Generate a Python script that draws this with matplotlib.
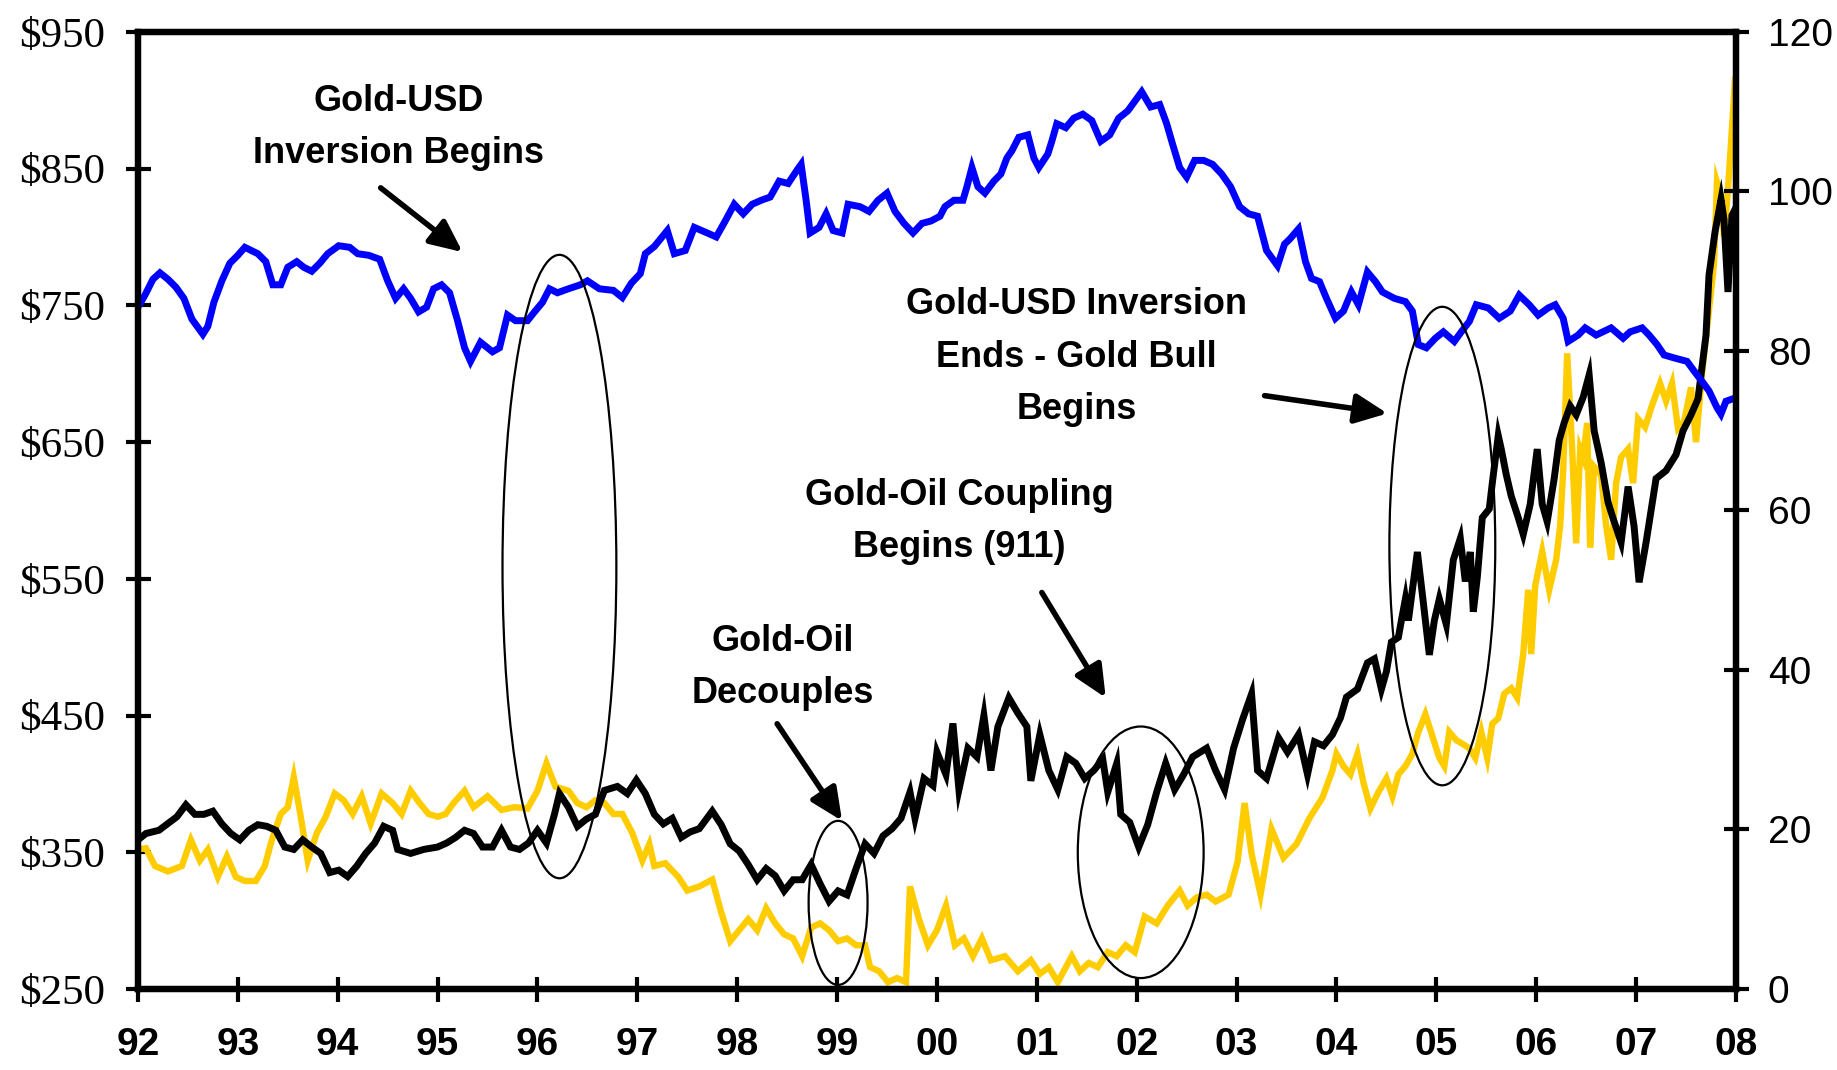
import matplotlib
matplotlib.use("Agg")
from matplotlib import pyplot as plt
from matplotlib.patches import Ellipse

# gold price in $/oz, left axis (x = year, 92 .. 108 means 1992 .. 2008)
gold_years = [92.00, 92.08, 92.17, 92.30, 92.44, 92.53, 92.62, 92.70, 92.80, 92.89, 92.98,
              93.07, 93.18, 93.27, 93.34, 93.43, 93.50, 93.56, 93.63, 93.70, 93.79, 93.88, 93.97,
              94.06, 94.15, 94.24, 94.33, 94.44, 94.55, 94.64, 94.73, 94.82, 94.91,
              95.00, 95.08, 95.16, 95.27, 95.36, 95.50, 95.64, 95.77, 95.90,
              96.00, 96.09, 96.18, 96.31, 96.40, 96.49, 96.58, 96.67, 96.76, 96.85, 96.95,
              97.05, 97.12, 97.17, 97.28, 97.41, 97.50, 97.62, 97.75, 97.84, 97.93,
              98.02, 98.11, 98.20, 98.29, 98.38, 98.47, 98.56, 98.65, 98.74, 98.83, 98.92,
              99.01, 99.10, 99.19, 99.28, 99.33, 99.42, 99.51, 99.60, 99.69, 99.73, 99.82, 99.91,
              100.00, 100.09, 100.18, 100.27, 100.36, 100.45, 100.54, 100.68, 100.81, 100.94,
              101.03, 101.12, 101.21, 101.35, 101.43, 101.52, 101.61, 101.71, 101.80, 101.89, 101.98,
              102.08, 102.20, 102.31, 102.43, 102.51, 102.60, 102.70, 102.79, 102.92,
              103.01, 103.08, 103.15, 103.24, 103.35, 103.47, 103.60, 103.73, 103.86, 103.96,
              104.00, 104.07, 104.14, 104.21, 104.27, 104.34, 104.42, 104.50, 104.56, 104.62,
              104.69, 104.76, 104.82, 104.89, 104.96,
              105.03, 105.08, 105.13, 105.20, 105.27, 105.33, 105.39, 105.45, 105.51, 105.56,
              105.62, 105.68, 105.75, 105.81, 105.87, 105.92, 105.95, 105.99,
              106.06, 106.13, 106.20, 106.24, 106.27, 106.31, 106.36, 106.40, 106.44, 106.47,
              106.51, 106.54, 106.58, 106.65, 106.70, 106.75, 106.80, 106.85, 106.92, 106.97,
              107.02, 107.09, 107.16, 107.24, 107.30, 107.36, 107.42, 107.48, 107.55, 107.60,
              107.66, 107.72, 107.78, 107.81, 107.85, 107.88, 107.92, 107.97, 107.99]
gold_price = [352, 353, 340, 336, 340, 359, 344, 352, 332, 347, 332,
              329, 329, 340, 359, 378, 383, 405, 376, 344, 364, 376, 393,
              388, 378, 391, 371, 393, 386, 378, 395, 386, 378,
              376, 378, 386, 395, 383, 391, 381, 383, 382,
              395, 415, 398, 395, 386, 383, 388, 386, 378, 378, 364,
              344, 356, 340, 342, 332, 322, 325, 330, 306, 285,
              293, 301, 293, 309, 298, 290, 287, 274, 295, 298, 293,
              285, 287, 282, 282, 266, 263, 255, 258, 255, 325, 301, 282,
              293, 311, 282, 287, 274, 287, 271, 274, 263, 271,
              261, 266, 255, 274, 263, 269, 266, 277, 274, 282, 277,
              303, 298, 311, 322, 311, 317, 319, 314, 319,
              343, 386, 349, 319, 367, 346, 356, 375, 390, 410,
              422, 413, 407, 422, 401, 382, 394, 404, 391, 407,
              413, 422, 438, 451, 435,
              419, 413, 438, 432, 429, 426, 419, 438, 419, 444,
              448, 466, 470, 463, 495, 542, 495, 545,
              570, 542, 564, 589, 629, 715, 645, 576, 645, 639,
              664, 573, 632, 626, 589, 564, 620, 639, 645, 620,
              667, 661, 677, 693, 680, 693, 660, 665, 690, 650,
              700, 740, 780, 840, 830, 800, 835, 891, 915]

# crude oil in $/bbl, right axis
oil_years = [92.00, 92.08, 92.21, 92.39, 92.48, 92.57, 92.66, 92.75, 92.84, 92.93,
             93.02, 93.11, 93.20, 93.29, 93.38, 93.47, 93.56, 93.65, 93.74, 93.83, 93.92,
             94.01, 94.10, 94.19, 94.28, 94.37, 94.46, 94.55, 94.60, 94.73, 94.86,
             95.00, 95.09, 95.18, 95.27, 95.36, 95.45, 95.55, 95.64, 95.73, 95.82, 95.91,
             96.00, 96.09, 96.17, 96.22, 96.31, 96.40, 96.49, 96.58, 96.67, 96.80, 96.90, 96.99,
             97.08, 97.17, 97.26, 97.35, 97.44, 97.53, 97.62, 97.75, 97.84, 97.93,
             98.02, 98.11, 98.20, 98.29, 98.38, 98.47, 98.56, 98.65, 98.74, 98.83, 98.92,
             99.01, 99.10, 99.19, 99.28, 99.37, 99.46, 99.55, 99.64, 99.73, 99.78, 99.87, 99.96,
             100.00, 100.09, 100.16, 100.22, 100.31, 100.40, 100.47, 100.54, 100.61, 100.72,
             100.81, 100.90, 100.94,
             101.03, 101.12, 101.21, 101.30, 101.39, 101.48, 101.57, 101.66, 101.71, 101.80,
             101.84, 101.93,
             102.02, 102.11, 102.20, 102.29, 102.38, 102.47, 102.56, 102.70, 102.79, 102.88, 102.97,
             103.06, 103.15, 103.21, 103.30, 103.42, 103.51, 103.62, 103.71, 103.78, 103.87, 103.96,
             104.04, 104.10, 104.21, 104.31, 104.38, 104.45, 104.50, 104.55, 104.62, 104.65,
             104.69, 104.72, 104.76, 104.81, 104.86, 104.93, 104.98,
             105.03, 105.10, 105.17, 105.24, 105.29, 105.34, 105.37, 105.41, 105.46, 105.53,
             105.56, 105.62, 105.65, 105.70, 105.75, 105.82, 105.87, 105.94,
             106.01, 106.06, 106.11, 106.18, 106.23, 106.28, 106.34, 106.40, 106.47, 106.53,
             106.58, 106.65, 106.72, 106.77, 106.85, 106.92, 106.98,
             107.03, 107.10, 107.20, 107.30, 107.40, 107.47, 107.55, 107.62, 107.66, 107.70,
             107.73, 107.79, 107.85, 107.88, 107.92, 107.96, 108.00]
oil_price = [18.7, 19.5, 19.9, 21.6, 23.1, 21.9, 21.9, 22.3, 20.7, 19.5,
             18.7, 19.9, 20.6, 20.4, 19.9, 17.8, 17.5, 18.7, 17.8, 17.0, 14.6,
             14.9, 14.1, 15.4, 17.0, 18.3, 20.4, 19.9, 17.5, 17.0, 17.5,
             17.8, 18.3, 19.0, 19.9, 19.5, 17.8, 17.8, 19.9, 17.8, 17.5, 18.3,
             19.9, 18.3, 21.9, 24.5, 22.8, 20.4, 21.3, 21.9, 24.9, 25.4, 24.5, 26.2,
             24.5, 21.9, 20.7, 21.4, 19.0, 19.7, 20.1, 22.3, 20.6, 18.2,
             17.3, 15.6, 13.7, 15.1, 14.2, 12.3, 13.7, 13.7, 15.6, 13.2, 11.0,
             12.3, 11.8, 15.1, 18.2, 17.0, 19.2, 20.1, 21.4, 24.7, 21.4, 26.4, 25.5,
             29.7, 26.9, 33.3, 25.0, 30.2, 29.1, 34.3, 27.4, 32.9, 36.5,
             34.6, 32.9, 26.1,
             31.9, 27.4, 25.0, 29.1, 28.3, 26.4, 27.4, 28.8, 24.7, 28.3,
             21.9, 20.9,
             17.8, 20.6, 24.7, 28.3, 25.0, 26.9, 29.1, 30.2, 27.4, 25.0, 30.2,
             33.8, 37.0, 27.4, 26.4, 31.5, 29.7, 31.9, 26.9, 31.0, 30.5, 31.9,
             34.0, 36.6, 37.6, 40.9, 41.4, 37.6, 39.8, 43.5, 44.1, 46.2,
             48.9, 46.2, 50.0, 54.8, 49.5, 41.9, 46.2,
             48.9, 45.7, 53.8, 56.5, 51.1, 54.8, 47.3, 51.6, 59.1, 60.2,
             63.4, 69.4, 67.7, 64.5, 61.8, 59.1, 57.0, 60.8,
             67.7, 60.8, 58.6, 64.0, 68.8, 71.0, 73.1, 72.0, 74.2, 77.0,
             70.0, 66.0, 61.0, 59.0, 56.0, 63.0, 58.0,
             51.0, 56.0, 64.0, 65.0, 67.0, 70.0, 72.0, 74.0, 78.0, 82.0,
             89.5, 94.9, 99.0, 96.5, 87.4, 97.0, 98.0]

# trade weighted US dollar index, right axis
usd_years = [92.00, 92.07, 92.15, 92.22, 92.30, 92.38, 92.46, 92.54, 92.65, 92.70, 92.76, 92.84, 92.92,
             93.00, 93.07, 93.20, 93.28, 93.35, 93.43, 93.50, 93.59, 93.66, 93.74, 93.82, 93.90,
             94.01, 94.12, 94.20, 94.31, 94.42, 94.50, 94.58, 94.66, 94.73, 94.81, 94.89, 94.96,
             95.04, 95.12, 95.20, 95.27, 95.33, 95.43, 95.55, 95.62, 95.70, 95.78, 95.90, 95.97,
             96.05, 96.12, 96.20, 96.31, 96.43, 96.50, 96.62, 96.76, 96.85, 96.94,
             97.03, 97.08, 97.17, 97.30, 97.37, 97.48, 97.57, 97.70, 97.79, 97.88, 97.97,
             98.06, 98.15, 98.24, 98.33, 98.42, 98.51, 98.60, 98.64, 98.69, 98.73, 98.82, 98.89, 98.96,
             99.05, 99.11, 99.23, 99.32, 99.41, 99.50, 99.58, 99.67, 99.76, 99.85, 99.94,
             100.03, 100.08, 100.17, 100.26, 100.30, 100.35, 100.41, 100.48, 100.57, 100.64, 100.70,
             100.75, 100.82, 100.91, 100.97,
             101.02, 101.11, 101.15, 101.20, 101.29, 101.37, 101.46, 101.55, 101.64, 101.73, 101.82, 101.91,
             102.05, 102.14, 102.23, 102.30, 102.36, 102.43, 102.50, 102.58, 102.67, 102.76, 102.85, 102.94,
             103.03, 103.12, 103.21, 103.30, 103.41, 103.48, 103.53, 103.62, 103.69, 103.75, 103.83, 103.90, 103.99,
             104.07, 104.15, 104.22, 104.31, 104.39, 104.46, 104.58, 104.69, 104.76, 104.82, 104.90, 104.99,
             105.07, 105.18, 105.25, 105.33, 105.40, 105.52, 105.63, 105.74, 105.83, 105.93,
             106.02, 106.12, 106.19, 106.27, 106.32, 106.42, 106.49, 106.60, 106.75, 106.87, 106.94,
             107.06, 107.13, 107.21, 107.28, 107.39, 107.51, 107.58, 107.66, 107.73, 107.81, 107.85,
             107.90, 107.99]
usd_index = [85.5, 87.0, 89.0, 89.8, 89.0, 88.0, 86.6, 84.0, 82.1, 83.1, 86.1, 88.8, 91.0,
             92.0, 93.0, 92.2, 91.2, 88.3, 88.3, 90.5, 91.2, 90.5, 90.0, 91.0, 92.2,
             93.2, 93.0, 92.2, 92.0, 91.5, 88.8, 86.6, 87.8, 86.6, 84.9, 85.5, 87.8,
             88.3, 87.3, 83.8, 80.4, 78.7, 81.1, 79.9, 80.4, 84.5, 83.8, 83.8, 84.9,
             86.1, 87.8, 87.3, 87.8, 88.3, 88.8, 87.8, 87.6, 86.7, 88.5,
             89.7, 92.2, 93.1, 95.1, 92.2, 92.6, 95.5, 94.8, 94.3, 96.3, 98.4,
             97.2, 98.4, 98.9, 99.3, 101.3, 101.0, 102.7, 103.4, 98.9, 94.8, 95.5, 97.2, 95.1,
             94.8, 98.4, 98.1, 97.5, 98.9, 99.8, 97.5, 96.0, 94.8, 96.0, 96.3,
             96.9, 98.1, 98.9, 98.9, 100.6, 103.0, 100.6, 99.8, 101.3, 102.2, 104.2,
             105.1, 106.8, 107.1, 104.2,
             103.0, 104.7, 106.3, 108.5, 108.0, 109.2, 109.7, 108.9, 106.3, 107.1, 109.2, 110.1,
             112.5, 110.6, 110.9, 108.5, 105.9, 103.0, 101.8, 103.9, 103.9, 103.4, 102.2, 100.6,
             98.1, 97.2, 96.9, 92.6, 90.7, 93.4, 94.0, 95.3, 91.2, 89.1, 88.7, 86.6, 84.1,
             85.0, 87.4, 85.8, 89.9, 88.7, 87.4, 86.6, 86.2, 85.0, 80.8, 80.4, 81.6,
             82.4, 81.2, 82.4, 83.7, 85.8, 85.4, 84.1, 85.0, 87.0, 85.8,
             84.5, 85.4, 85.8, 84.1, 81.2, 82.0, 82.9, 82.0, 82.9, 81.6, 82.4,
             82.9, 82.0, 80.8, 79.5, 79.1, 78.7, 77.5, 76.2, 75.0, 72.9, 72.1,
             73.7, 74.1]

year_ticks = list(range(92, 109))
year_labels = ["92", "93", "94", "95", "96", "97", "98", "99", "00",
               "01", "02", "03", "04", "05", "06", "07", "08"]
gold_ticks = [250, 350, 450, 550, 650, 750, 850, 950]
gold_labels = ["$250", "$350", "$450", "$550", "$650", "$750", "$850", "$950"]
right_ticks = [0, 20, 40, 60, 80, 100, 120]

fig = plt.figure(figsize=(18.37, 10.70), dpi=100)
ax = fig.add_axes([0.0751, 0.0757, 0.8699, 0.8944])
ax2 = ax.twinx()

ax.plot(gold_years, gold_price, color="#FFCC00", lw=4.6, solid_joinstyle="miter")
ax2.plot(oil_years, oil_price, color="black", lw=5.0, solid_joinstyle="miter")
ax2.plot(usd_years, usd_index, color="#0000FF", lw=5.0, solid_joinstyle="miter")

ax.set_xlim(92, 108)
ax.set_ylim(250, 950)
ax2.set_ylim(0, 120)

ax.set_xticks(year_ticks)
ax.set_xticklabels(year_labels, fontfamily="Liberation Sans", fontweight="bold", fontsize=28)
ax.set_yticks(gold_ticks)
ax.set_yticklabels(gold_labels, fontfamily="Liberation Serif", fontsize=31)
ax2.set_yticks(right_ticks)
ax2.set_yticklabels([str(v) for v in right_ticks], fontfamily="Liberation Sans", fontsize=28)

ax.tick_params(axis="x", direction="inout", length=18, width=3, pad=18)
ax.tick_params(axis="y", direction="inout", length=18, width=3, pad=15)
ax2.tick_params(axis="y", direction="inout", length=18, width=3, pad=14)
for a in (ax, ax2):
    for sp in a.spines.values():
        sp.set_linewidth(4.5)

# ellipses marking the turning points (year, $ coordinates of the left axis)
for cx, cy, w, h in [(96.22, 559, 1.14, 456), (99.01, 313, 0.59, 120),
                     (102.04, 350, 1.26, 184), (105.06, 574, 1.06, 350)]:
    ax2.add_patch(Ellipse((cx, cy), w, h, transform=ax.transData, fill=False,
                          edgecolor="black", lw=1.6, clip_on=False, zorder=5))

note_font = dict(fontfamily="Liberation Sans", fontweight="bold", fontsize=26,
                 ha="center", va="center", linespacing=1.65, zorder=6)
ax2.text(94.61, 880, "Gold-USD\nInversion Begins", transform=ax.transData, **note_font)
ax2.text(101.40, 712, "Gold-USD Inversion\nEnds - Gold Bull\nBegins", transform=ax.transData, **note_font)
ax2.text(100.22, 592, "Gold-Oil Coupling\nBegins (911)", transform=ax.transData, **note_font)
ax2.text(98.46, 485, "Gold-Oil\nDecouples", transform=ax.transData, **note_font)

arrow = dict(arrowstyle="-|>,head_length=0.65,head_width=0.3", color="black", lw=4,
             mutation_scale=30, shrinkA=0, shrinkB=0)
for start, end in [((94.43, 836), (95.25, 789)), ((103.28, 684), (104.51, 671)),
                   ((101.05, 540), (101.69, 463)), ((98.40, 444), (99.05, 373))]:
    ax2.annotate("", xy=end, xytext=start, xycoords=ax.transData,
                 textcoords=ax.transData, arrowprops=arrow, zorder=6)

plt.savefig("out.png", dpi=100)
